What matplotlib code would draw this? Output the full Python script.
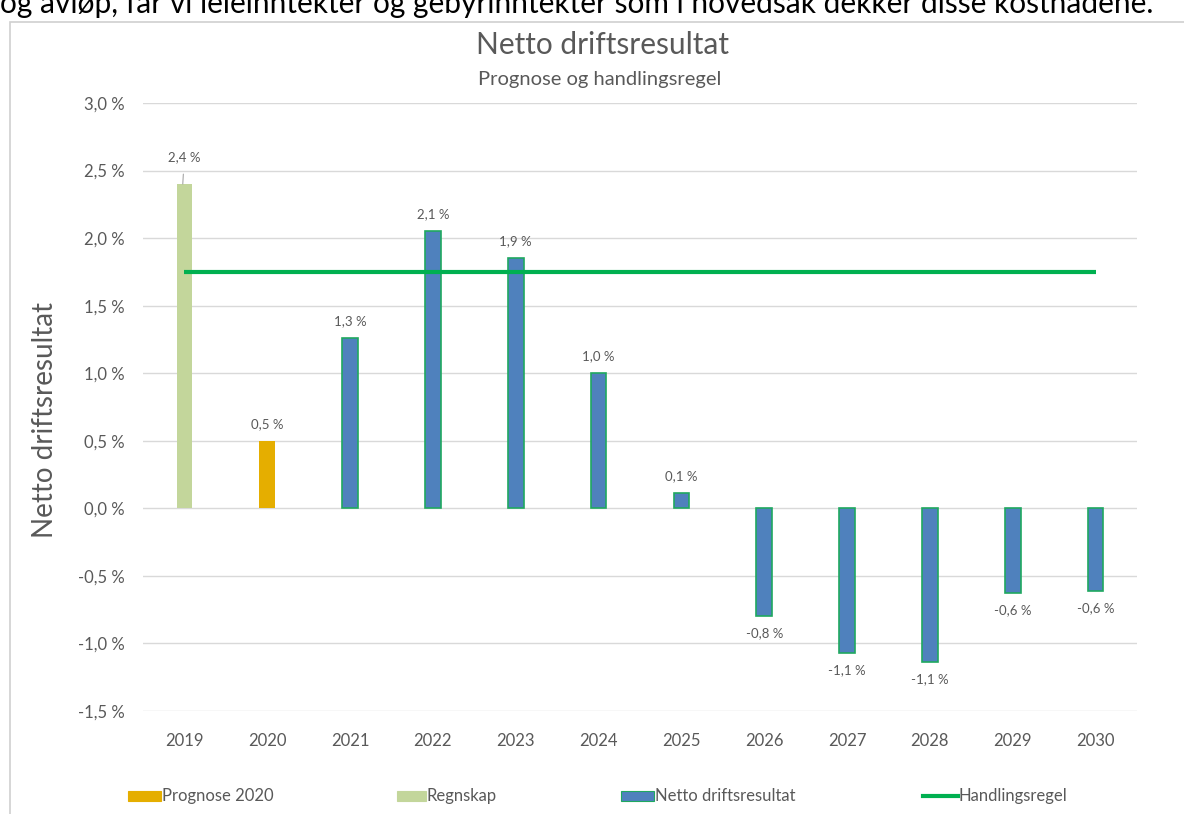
import matplotlib
matplotlib.use("Agg")
import matplotlib.pyplot as plt
from matplotlib.patches import Rectangle
from matplotlib.lines import Line2D

plt.rcParams['font.family'] = ['Lato', 'DejaVu Sans']

years = ["2019", "2020", "2021", "2022", "2023", "2024", "2025", "2026", "2027", "2028", "2029", "2030"]
regnskap = {"2019": 2.40}
prognose = {"2020": 0.50}
netto = {"2021": 1.26, "2022": 2.05, "2023": 1.85, "2024": 1.00, "2025": 0.11,
         "2026": -0.80, "2027": -1.07, "2028": -1.14, "2029": -0.63, "2030": -0.61}
labels = ["2,4 %", "0,5 %", "1,3 %", "2,1 %", "1,9 %", "1,0 %", "0,1 %",
          "-0,8 %", "-1,1 %", "-1,1 %", "-0,6 %", "-0,6 %"]
handlingsregel = 1.75
yticks = [-1.5, -1.0, -0.5, 0.0, 0.5, 1.0, 1.5, 2.0, 2.5, 3.0]
yticklabels = ["-1,5 %", "-1,0 %", "-0,5 %", "0,0 %", "0,5 %", "1,0 %", "1,5 %", "2,0 %", "2,5 %", "3,0 %"]

TXT = "#595959"
GRID = "#D9D9D9"
C_BLUE = "#4F81BD"
C_EDGE = "#1FA860"
C_GREEN = "#C3D69B"
C_ORANGE = "#E5AE00"
C_LINE = "#00B050"

W, H = 1184, 814
fig = plt.figure(figsize=(W / 100, H / 100), dpi=100)
fig.patch.set_facecolor("white")

def fx(px):
    return px / W

def fy(py):
    return 1 - py / H

# chart frame
fig.patches.append(Rectangle((fx(10), fy(830)), fx(1200) - fx(10), fy(22) - fy(830),
                             transform=fig.transFigure, fill=False, edgecolor="#D0D0D0", lw=1.2))

# cropped text above chart (cut off at the top edge, as in the source image)
fig.text(fx(0), fy(13), "og avløp, får vi leieinntekter og gebyrinntekter som i hovedsak dekker disse kostnadene.",
         fontsize=21.5, color="black", ha="left", va="baseline")

ax = fig.add_axes([fx(143), fy(711), fx(1137) - fx(143), fy(103) - fy(711)])
x = list(range(len(years)))
idx = {y: i for i, y in enumerate(years)}
bw = 0.19

ax.bar([idx[k] for k in regnskap], list(regnskap.values()), width=bw, color=C_GREEN, zorder=2)
ax.bar([idx[k] for k in prognose], list(prognose.values()), width=bw, color=C_ORANGE, zorder=2)
ax.bar([idx[k] for k in netto], list(netto.values()), width=bw, color=C_BLUE,
       edgecolor=C_EDGE, linewidth=1.2, zorder=2)
ax.plot([0, len(years) - 1], [handlingsregel, handlingsregel], color=C_LINE, lw=3, zorder=3,
        solid_capstyle="butt")

vals = {}
vals.update(regnskap); vals.update(prognose); vals.update(netto)
for i, yr in enumerate(years):
    v = vals[yr]
    if yr == "2019":
        ax.annotate(labels[i], xy=(i - 0.02, v), xytext=(i, v + 0.20), ha="center", va="center",
                    fontsize=9.5, color=TXT,
                    arrowprops=dict(arrowstyle="-", color="#A6A6A6", lw=0.8, shrinkA=6, shrinkB=0))
    elif v >= 0:
        ax.annotate(labels[i], xy=(i, v), xytext=(0, 8), textcoords="offset points",
                    ha="center", va="bottom", fontsize=9.5, color=TXT)
    else:
        ax.annotate(labels[i], xy=(i, v), xytext=(0, -8), textcoords="offset points",
                    ha="center", va="top", fontsize=9.5, color=TXT)

ax.set_xlim(-0.5, len(years) - 0.5)
ax.set_ylim(-1.5, 3.0)
ax.set_yticks(yticks)
ax.set_yticklabels(yticklabels)
ax.set_xticks(x)
ax.set_xticklabels(years)
ax.tick_params(axis="both", length=0, colors=TXT, labelsize=12)
ax.tick_params(axis="y", pad=13)
ax.tick_params(axis="x", pad=16)
for s in ax.spines.values():
    s.set_visible(False)
ax.grid(axis="y", color=GRID, lw=1, zorder=0)
ax.set_axisbelow(True)

fig.text(fx(603), fy(45), "Netto driftsresultat", fontsize=21.5, color=TXT, ha="center", va="center")
fig.text(fx(600), fy(79), "Prognose og handlingsregel", fontsize=14.5, color=TXT, ha="center", va="center")
fig.text(fx(45), fy(420), "Netto driftsresultat", fontsize=20, color=TXT, ha="center", va="center",
         rotation=90)

# legend
ly = 796
items = [("patch", C_ORANGE, None, 128, 161, "Prognose 2020"),
         ("patch", C_GREEN, None, 397, 426, "Regnskap"),
         ("patch", C_BLUE, C_EDGE, 621, 654, "Netto driftsresultat"),
         ("line", C_LINE, None, 923, 958, "Handlingsregel")]
for kind, col, ec, x0, x1, lab in items:
    if kind == "patch":
        fig.patches.append(Rectangle((fx(x0), fy(ly + 5)), fx(x1) - fx(x0), fy(ly - 5) - fy(ly + 5),
                                     transform=fig.transFigure, facecolor=col,
                                     edgecolor=ec if ec else col, lw=0.8))
    else:
        fig.lines.append(Line2D([fx(x0), fx(x1)], [fy(ly), fy(ly)], transform=fig.transFigure,
                                color=col, lw=3))
    fig.text(fx(x1 + 1), fy(ly), lab, fontsize=12, color=TXT, ha="left", va="center")

fig.savefig("out.png", dpi=100)
